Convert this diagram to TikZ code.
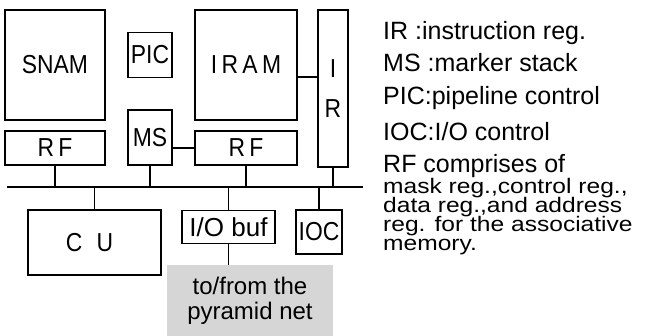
\documentclass[tikz,border=0pt]{standalone}
\usepackage{fontspec}
\setmainfont{Liberation Sans}
\newfontfamily\unitfont[FakeStretch=0.88]{Liberation Sans}
\newfontfamily\smallnotefont[FakeStretch=1.17]{Liberation Sans}
\usetikzlibrary{positioning,calc}

\begin{document}
\begin{tikzpicture}[
    x=1pt, y=-1pt,
    font=\unitfont\fontsize{26}{28}\selectfont,
    unit/.style={draw, line width=1.3pt, inner sep=0pt, align=center},
    wire/.style={line width=1.3pt},
    bus/.style={line width=2.6pt},
    note/.style={anchor=base west, inner sep=0pt, font=\fontsize{25}{27}\selectfont},
    subnote/.style={anchor=base west, inner sep=0pt, font=\smallnotefont\fontsize{21}{23}\selectfont}
  ]
    \useasboundingbox (0,0) rectangle (645,336);
    % memories and register files
    \node[unit, minimum width=100pt, minimum height=110pt] (snam) at (55,65) {SNAM};
    \node[unit, minimum width=100pt, minimum height=34pt] (rfl) at (55,148) {R\,F};
    \node[unit, minimum width=44pt, minimum height=45pt] (pic) at (150,55) {PIC};
    \node[unit, minimum width=44pt, minimum height=55pt] (ms) at (150,137.5) {MS};
    \node[unit, minimum width=102pt, minimum height=110pt] (iram) at (246,65) {I\,R\,A\,M};
    \node[unit, minimum width=30pt, minimum height=157pt] (ir) at (333,88.5) {I\\[12pt]R};
    \node[unit, minimum width=102pt, minimum height=34pt] (rfr) at (246,148) {R\,F};
    % bus
    \coordinate (busl) at (7,187);
    \coordinate (busr) at (363,187);
    \draw[bus] (busl) -- (busr);
    % units below the bus
    \node[unit, minimum width=133pt, minimum height=65pt] (cu) at (94.5,242.5) {C\;\;U\hspace{10pt}};
    \node[unit, minimum width=93pt, minimum height=33pt, font=\fontsize{26}{28}\selectfont] (iobuf) at (228.5,227) {I/O buf};
    \node[unit, minimum width=46pt, minimum height=44pt] (ioc) at (319,232) {IOC};
    \node[fill=black!16, minimum width=166pt, minimum height=71pt, align=center,
      font=\fontsize{24}{25}\selectfont] (net) at (250,300.5) {to/from the\\pyramid net};
    % connectors
    \draw[wire] (rfl.south) -- (rfl.south |- busl);
    \draw[wire] (ms.south) -- (ms.south |- busl);
    \draw[wire] (rfr.south) -- (rfr.south |- busl);
    \draw[wire] (ir.south) -- (ir.south |- busl);
    \draw[wire] (ms.east |- rfr) -- (rfr.west);
    \draw[wire] ([yshift=-12pt]iram.east) -- ([yshift=-12pt]iram.east -| ir.west);
    \draw[wire] (cu.north |- busl) -- (cu.north);
    \draw[wire] (iobuf.north |- busl) -- (iobuf.north);
    \draw[wire] (ioc.north |- busl) -- (ioc.north);
    \draw[wire] (iobuf.south) -- (iobuf.south |- net.north);
    % legend
    \node[note] (l1) at (383,40) {IR :instruction reg.};
    \node[note] (l2) at (383,72) {MS :marker stack};
    \node[note] (l3) at (383,105) {PIC:pipeline control};
    \node[note] (l4) at (383,141) {IOC:I/O control};
    \node[note] (l5) at (383,173) {RF comprises of};
    \node[subnote] (l6) at (383,194) {mask reg.,control reg.,};
    \node[subnote] (l7) at (383,213) {data reg.,and address};
    \node[subnote] (l8) at (383,232) {reg. for the associative};
    \node[subnote] (l9) at (383,251) {memory.};
\end{tikzpicture}
\end{document}
